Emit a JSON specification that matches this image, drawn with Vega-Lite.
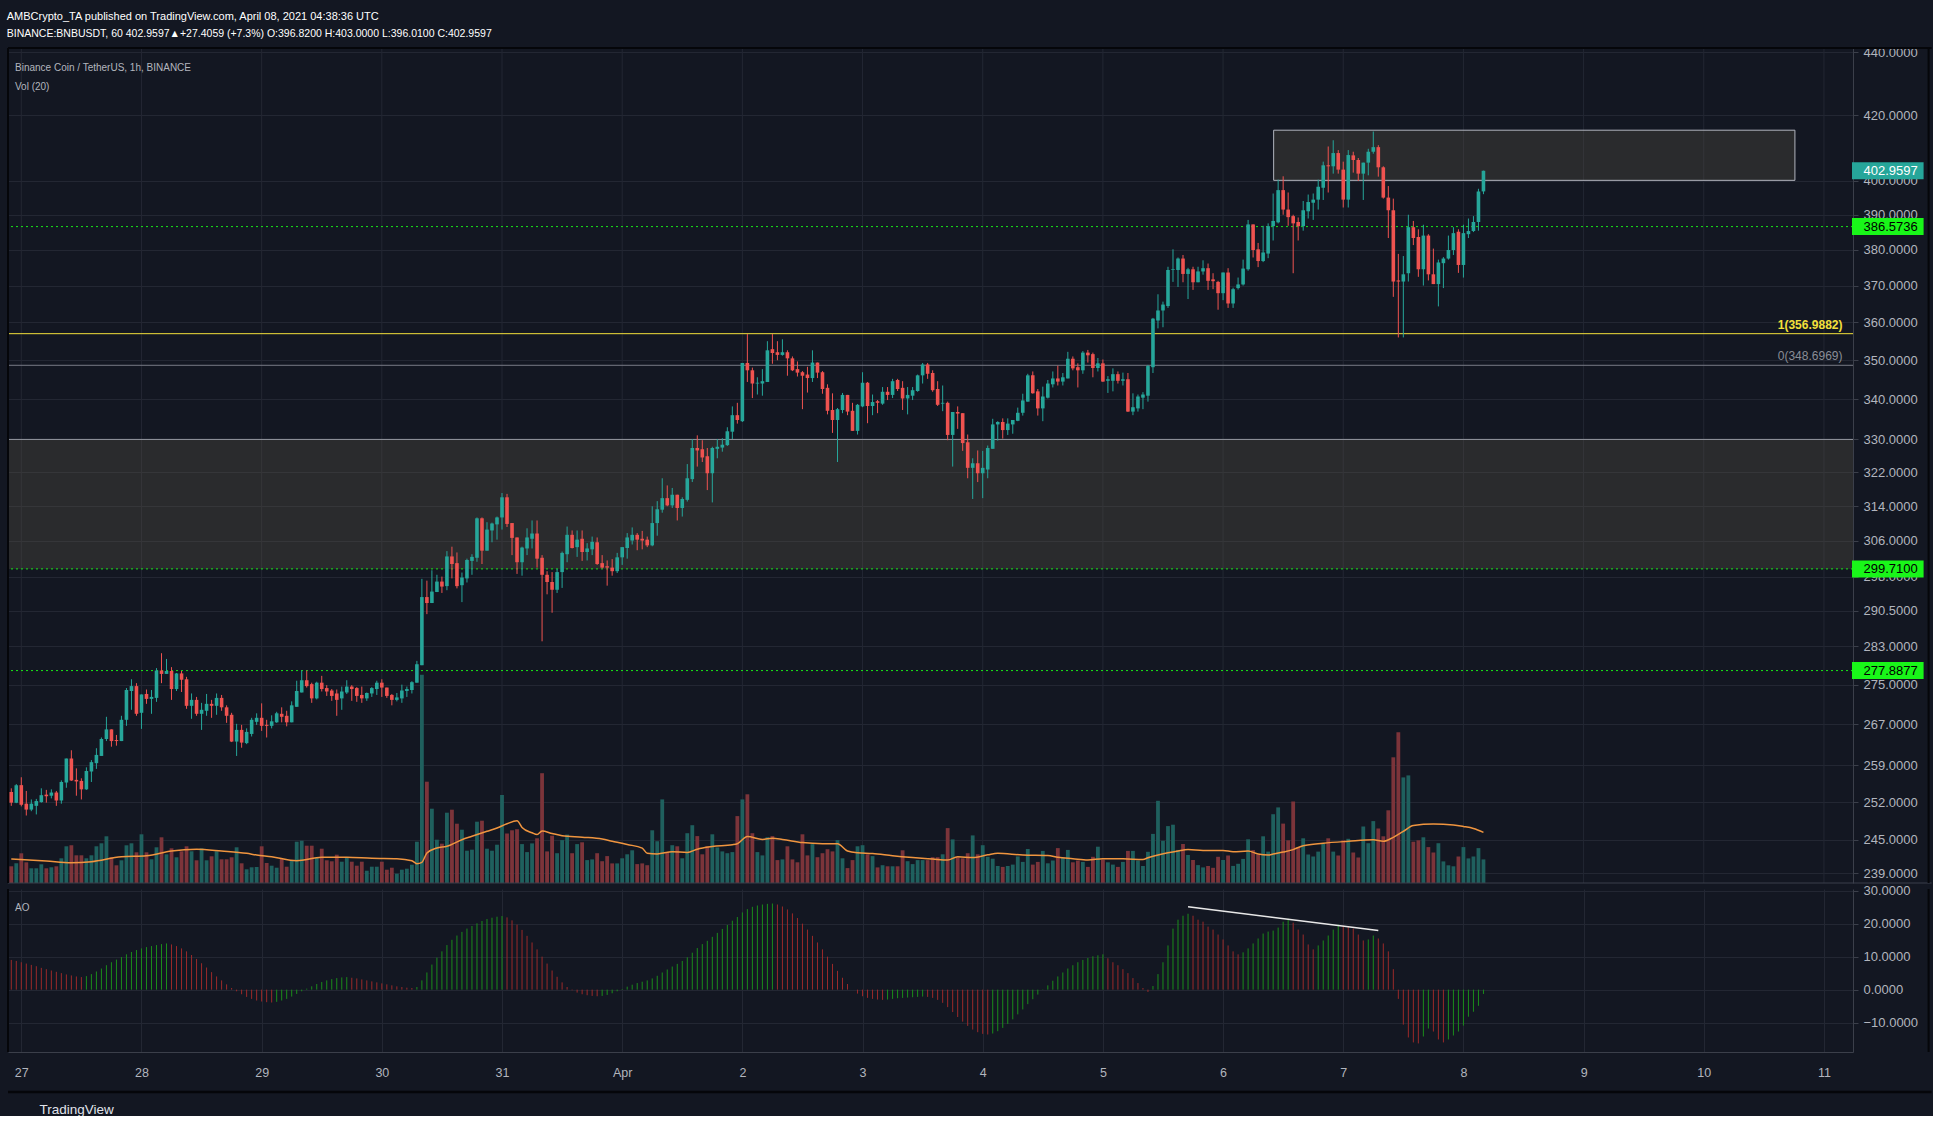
{
"$schema": "https://vega.github.io/schema/vega-lite/v6.json",
"background": "#131722",
"padding": {"left": 6, "top": 10, "right": 0, "bottom": 0},
"title": {"text": "AMBCrypto_TA published on TradingView.com, April 08, 2021 04:38:36 UTC", "subtitle": "BINANCE:BNBUSDT, 60  402.9597▲+27.4059 (+7.3%) O:396.8200 H:403.0000 L:396.0100 C:402.9597", "anchor": "start", "frame": "bounds", "font": "Liberation Sans", "fontSize": 11, "fontWeight": "normal", "color": "#ffffff", "subtitleFont": "Liberation Sans", "subtitleFontSize": 10.5, "subtitleColor": "#ffffff", "subtitlePadding": 7, "offset": 7},
"config": {"view": {"stroke": null}, "axis": {"labelFont": "Liberation Sans", "labelFontSize": 13, "labelColor": "#b2b5be", "gridColor": "#232733", "domainColor": "#3b3f4a", "tickColor": "#3b3f4a", "titleColor": "#d1d4dc"}},
"datasets": {
"bars": [
{"t":-2,"o":253.9,"h":254.6,"l":251.3,"c":251.9,"v":16.7,"a":9.0,"d":"d"},
{"t":-1,"o":251.9,"h":255.4,"l":251.8,"c":255.2,"v":19.7,"a":8.7,"d":"d"},
{"t":0,"o":255.2,"h":256.7,"l":251.2,"c":251.5,"v":29.7,"a":8.3,"d":"d"},
{"t":1,"o":251.7,"h":254.1,"l":249.5,"c":250.6,"v":20.7,"a":7.9,"d":"d"},
{"t":2,"o":250.6,"h":252.5,"l":250.3,"c":251.7,"v":14.7,"a":7.5,"d":"d"},
{"t":3,"o":251.3,"h":252.6,"l":249.7,"c":252.2,"v":14.7,"a":7.1,"d":"d"},
{"t":4,"o":252.0,"h":254.6,"l":251.9,"c":253.3,"v":18.7,"a":6.6,"d":"d"},
{"t":5,"o":253.4,"h":254.3,"l":251.9,"c":253.1,"v":14.7,"a":6.2,"d":"d"},
{"t":6,"o":253.2,"h":254.4,"l":252.7,"c":253.8,"v":15.7,"a":5.8,"d":"d"},
{"t":7,"o":253.8,"h":254.1,"l":251.3,"c":252.3,"v":16.7,"a":5.4,"d":"d"},
{"t":8,"o":252.3,"h":256.1,"l":251.7,"c":255.8,"v":24.7,"a":5.0,"d":"d"},
{"t":9,"o":255.7,"h":260.3,"l":254.7,"c":260.3,"v":36.7,"a":4.6,"d":"d"},
{"t":10,"o":260.3,"h":261.9,"l":256.0,"c":256.1,"v":37.7,"a":4.3,"d":"d"},
{"t":11,"o":256.2,"h":258.4,"l":253.2,"c":255.9,"v":27.7,"a":4.0,"d":"d"},
{"t":12,"o":256.0,"h":256.5,"l":252.5,"c":254.4,"v":27.7,"a":3.8,"d":"d"},
{"t":13,"o":254.4,"h":258.6,"l":254.3,"c":257.9,"v":24.7,"a":4.1,"d":"u"},
{"t":14,"o":257.8,"h":260.0,"l":255.8,"c":259.6,"v":27.7,"a":4.7,"d":"u"},
{"t":15,"o":259.4,"h":262.3,"l":258.3,"c":261.0,"v":36.7,"a":5.5,"d":"u"},
{"t":16,"o":260.8,"h":264.4,"l":260.8,"c":264.1,"v":39.7,"a":6.4,"d":"u"},
{"t":17,"o":264.1,"h":268.5,"l":263.7,"c":266.0,"v":46.7,"a":7.4,"d":"u"},
{"t":18,"o":266.0,"h":266.0,"l":262.6,"c":263.7,"v":25.7,"a":8.3,"d":"u"},
{"t":19,"o":263.9,"h":264.9,"l":262.8,"c":263.7,"v":17.7,"a":9.1,"d":"u"},
{"t":20,"o":263.7,"h":268.7,"l":263.7,"c":267.9,"v":22.7,"a":9.9,"d":"u"},
{"t":21,"o":267.9,"h":274.3,"l":266.7,"c":273.9,"v":37.7,"a":10.7,"d":"u"},
{"t":22,"o":273.7,"h":276.1,"l":269.9,"c":274.7,"v":39.7,"a":11.4,"d":"u"},
{"t":23,"o":274.7,"h":275.3,"l":268.7,"c":269.1,"v":30.7,"a":12.0,"d":"u"},
{"t":24,"o":269.3,"h":273.0,"l":266.1,"c":273.0,"v":48.7,"a":12.5,"d":"u"},
{"t":25,"o":273.1,"h":274.0,"l":271.1,"c":272.1,"v":30.7,"a":12.9,"d":"u"},
{"t":26,"o":272.1,"h":273.9,"l":269.1,"c":272.5,"v":23.7,"a":13.2,"d":"u"},
{"t":27,"o":272.3,"h":278.4,"l":271.5,"c":277.9,"v":35.7,"a":13.5,"d":"u"},
{"t":28,"o":277.9,"h":281.5,"l":275.3,"c":277.2,"v":45.7,"a":13.8,"d":"u"},
{"t":29,"o":277.2,"h":280.3,"l":277.2,"c":277.8,"v":28.7,"a":14.0,"d":"u"},
{"t":30,"o":277.8,"h":278.6,"l":271.9,"c":274.1,"v":34.7,"a":13.7,"d":"d"},
{"t":31,"o":274.1,"h":277.4,"l":273.7,"c":277.3,"v":25.7,"a":13.2,"d":"d"},
{"t":32,"o":277.3,"h":277.8,"l":273.5,"c":276.0,"v":31.7,"a":12.5,"d":"d"},
{"t":33,"o":276.1,"h":276.6,"l":270.1,"c":270.7,"v":36.7,"a":11.6,"d":"d"},
{"t":34,"o":270.7,"h":273.2,"l":268.1,"c":271.9,"v":31.7,"a":10.5,"d":"d"},
{"t":35,"o":271.9,"h":272.5,"l":268.7,"c":269.1,"v":22.7,"a":9.3,"d":"d"},
{"t":36,"o":269.1,"h":271.3,"l":265.9,"c":269.9,"v":34.7,"a":8.0,"d":"d"},
{"t":37,"o":269.7,"h":273.1,"l":268.7,"c":271.1,"v":22.7,"a":6.7,"d":"d"},
{"t":38,"o":271.1,"h":271.9,"l":268.3,"c":270.7,"v":26.7,"a":5.3,"d":"d"},
{"t":39,"o":270.7,"h":273.2,"l":268.9,"c":272.3,"v":31.7,"a":4.0,"d":"d"},
{"t":40,"o":272.3,"h":272.9,"l":269.7,"c":270.4,"v":23.7,"a":2.8,"d":"d"},
{"t":41,"o":270.4,"h":270.8,"l":267.3,"c":268.7,"v":23.7,"a":1.6,"d":"d"},
{"t":42,"o":268.9,"h":269.3,"l":263.5,"c":263.6,"v":25.7,"a":0.5,"d":"d"},
{"t":43,"o":263.6,"h":267.1,"l":260.8,"c":265.9,"v":35.7,"a":-0.5,"d":"d"},
{"t":44,"o":265.9,"h":266.9,"l":262.4,"c":263.4,"v":19.7,"a":-1.4,"d":"d"},
{"t":45,"o":263.3,"h":266.2,"l":263.1,"c":265.5,"v":13.7,"a":-2.2,"d":"d"},
{"t":46,"o":265.1,"h":268.3,"l":264.6,"c":267.9,"v":15.7,"a":-2.8,"d":"d"},
{"t":47,"o":267.5,"h":269.2,"l":266.9,"c":268.3,"v":16.0,"a":-3.3,"d":"d"},
{"t":48,"o":268.3,"h":271.2,"l":265.7,"c":266.7,"v":36.7,"a":-3.6,"d":"d"},
{"t":49,"o":266.9,"h":267.9,"l":264.4,"c":266.7,"v":20.0,"a":-3.8,"d":"d"},
{"t":50,"o":266.7,"h":268.8,"l":266.2,"c":267.6,"v":17.3,"a":-3.9,"d":"d"},
{"t":51,"o":267.4,"h":269.5,"l":267.3,"c":269.2,"v":15.3,"a":-3.7,"d":"u"},
{"t":52,"o":269.1,"h":270.4,"l":267.4,"c":268.5,"v":24.0,"a":-3.3,"d":"u"},
{"t":53,"o":268.7,"h":269.7,"l":266.6,"c":267.4,"v":16.3,"a":-2.8,"d":"u"},
{"t":54,"o":267.4,"h":271.6,"l":267.4,"c":270.8,"v":22.7,"a":-2.1,"d":"u"},
{"t":55,"o":270.5,"h":275.8,"l":270.5,"c":273.7,"v":41.3,"a":-1.3,"d":"u"},
{"t":56,"o":273.4,"h":277.9,"l":273.4,"c":275.9,"v":42.3,"a":-0.5,"d":"u"},
{"t":57,"o":275.9,"h":277.9,"l":274.4,"c":274.7,"v":37.3,"a":0.3,"d":"u"},
{"t":58,"o":275.1,"h":275.4,"l":271.3,"c":272.2,"v":37.3,"a":1.0,"d":"u"},
{"t":59,"o":272.2,"h":275.6,"l":272.0,"c":275.4,"v":25.0,"a":1.7,"d":"u"},
{"t":60,"o":275.4,"h":276.8,"l":273.6,"c":274.1,"v":34.3,"a":2.3,"d":"u"},
{"t":61,"o":274.3,"h":274.9,"l":272.7,"c":273.6,"v":22.7,"a":2.8,"d":"u"},
{"t":62,"o":273.8,"h":274.1,"l":271.7,"c":272.7,"v":21.7,"a":3.2,"d":"u"},
{"t":63,"o":273.2,"h":274.0,"l":268.7,"c":271.9,"v":28.3,"a":3.5,"d":"u"},
{"t":64,"o":272.2,"h":274.6,"l":269.9,"c":273.6,"v":21.3,"a":3.7,"d":"u"},
{"t":65,"o":273.4,"h":275.9,"l":273.1,"c":274.6,"v":25.0,"a":3.8,"d":"u"},
{"t":66,"o":274.6,"h":274.9,"l":271.7,"c":274.1,"v":21.3,"a":3.6,"d":"d"},
{"t":67,"o":274.3,"h":274.5,"l":271.5,"c":272.7,"v":17.3,"a":3.4,"d":"d"},
{"t":68,"o":272.9,"h":274.6,"l":271.3,"c":272.2,"v":21.3,"a":3.1,"d":"d"},
{"t":69,"o":272.2,"h":273.4,"l":271.7,"c":273.3,"v":12.3,"a":2.8,"d":"d"},
{"t":70,"o":273.2,"h":274.5,"l":272.5,"c":274.3,"v":16.3,"a":2.5,"d":"d"},
{"t":71,"o":274.1,"h":275.8,"l":272.9,"c":275.4,"v":16.3,"a":2.2,"d":"d"},
{"t":72,"o":275.4,"h":276.1,"l":272.5,"c":274.4,"v":21.3,"a":1.9,"d":"d"},
{"t":73,"o":274.4,"h":274.4,"l":272.3,"c":272.7,"v":13.3,"a":1.6,"d":"d"},
{"t":74,"o":272.9,"h":273.1,"l":270.8,"c":271.9,"v":15.3,"a":1.3,"d":"d"},
{"t":75,"o":271.9,"h":273.3,"l":271.6,"c":272.4,"v":9.3,"a":1.0,"d":"d"},
{"t":76,"o":272.2,"h":275.0,"l":271.3,"c":273.8,"v":13.3,"a":0.8,"d":"d"},
{"t":77,"o":273.7,"h":274.6,"l":272.5,"c":274.1,"v":14.3,"a":0.6,"d":"d"},
{"t":78,"o":273.9,"h":275.7,"l":273.2,"c":275.5,"v":18.3,"a":0.5,"d":"d"},
{"t":79,"o":275.4,"h":279.9,"l":275.4,"c":279.2,"v":41.3,"a":0.8,"d":"u"},
{"t":80,"o":279.0,"h":297.5,"l":279.0,"c":293.5,"v":208.3,"a":2.8,"d":"u"},
{"t":81,"o":293.5,"h":297.1,"l":289.8,"c":292.2,"v":101.3,"a":5.2,"d":"u"},
{"t":82,"o":292.2,"h":299.4,"l":292.2,"c":294.7,"v":74.3,"a":7.6,"d":"u"},
{"t":83,"o":294.6,"h":298.4,"l":294.6,"c":296.9,"v":43.3,"a":9.7,"d":"u"},
{"t":84,"o":296.9,"h":298.0,"l":294.4,"c":295.8,"v":39.3,"a":11.6,"d":"u"},
{"t":85,"o":295.9,"h":303.7,"l":295.0,"c":302.5,"v":70.3,"a":13.5,"d":"u"},
{"t":86,"o":302.5,"h":304.7,"l":297.6,"c":300.8,"v":73.3,"a":15.1,"d":"u"},
{"t":87,"o":301.0,"h":303.4,"l":295.4,"c":295.9,"v":59.3,"a":16.4,"d":"u"},
{"t":88,"o":296.1,"h":298.9,"l":292.4,"c":297.8,"v":53.3,"a":17.5,"d":"u"},
{"t":89,"o":297.6,"h":302.0,"l":296.7,"c":301.7,"v":32.3,"a":18.5,"d":"u"},
{"t":90,"o":301.5,"h":303.0,"l":298.4,"c":302.4,"v":33.3,"a":19.3,"d":"u"},
{"t":91,"o":302.2,"h":311.4,"l":301.3,"c":311.2,"v":61.3,"a":20.1,"d":"u"},
{"t":92,"o":311.2,"h":311.4,"l":300.8,"c":303.8,"v":62.3,"a":20.8,"d":"u"},
{"t":93,"o":303.8,"h":310.3,"l":303.8,"c":308.6,"v":34.3,"a":21.4,"d":"u"},
{"t":94,"o":308.4,"h":310.2,"l":305.7,"c":310.0,"v":32.3,"a":21.8,"d":"u"},
{"t":95,"o":309.8,"h":311.6,"l":306.3,"c":311.4,"v":38.3,"a":22.1,"d":"u"},
{"t":96,"o":311.4,"h":317.1,"l":308.6,"c":316.1,"v":88.0,"a":22.3,"d":"u"},
{"t":97,"o":316.1,"h":316.9,"l":309.2,"c":309.9,"v":49.5,"a":21.9,"d":"d"},
{"t":98,"o":310.1,"h":310.1,"l":302.8,"c":306.7,"v":52.7,"a":21.0,"d":"d"},
{"t":99,"o":306.8,"h":306.8,"l":298.6,"c":301.2,"v":53.8,"a":19.7,"d":"d"},
{"t":100,"o":301.2,"h":304.7,"l":298.2,"c":304.5,"v":38.9,"a":18.1,"d":"d"},
{"t":101,"o":304.3,"h":308.9,"l":302.8,"c":306.8,"v":30.9,"a":16.3,"d":"d"},
{"t":102,"o":306.5,"h":310.7,"l":304.3,"c":307.7,"v":39.6,"a":14.3,"d":"d"},
{"t":103,"o":307.7,"h":310.7,"l":300.0,"c":302.0,"v":44.7,"a":12.2,"d":"d"},
{"t":104,"o":302.2,"h":302.8,"l":284.0,"c":298.4,"v":109.8,"a":10.0,"d":"d"},
{"t":105,"o":298.4,"h":299.2,"l":294.1,"c":296.8,"v":31.6,"a":7.9,"d":"d"},
{"t":106,"o":296.8,"h":299.0,"l":290.1,"c":295.1,"v":47.3,"a":5.8,"d":"d"},
{"t":107,"o":295.1,"h":299.7,"l":294.4,"c":299.0,"v":29.8,"a":3.9,"d":"d"},
{"t":108,"o":299.0,"h":303.6,"l":295.5,"c":303.3,"v":42.9,"a":2.2,"d":"d"},
{"t":109,"o":303.0,"h":309.3,"l":301.2,"c":307.4,"v":48.4,"a":0.8,"d":"d"},
{"t":110,"o":307.4,"h":308.4,"l":304.3,"c":304.4,"v":29.8,"a":-0.2,"d":"d"},
{"t":111,"o":304.6,"h":308.4,"l":302.4,"c":306.3,"v":38.9,"a":-0.9,"d":"d"},
{"t":112,"o":306.5,"h":308.4,"l":301.5,"c":303.5,"v":40.7,"a":-1.4,"d":"d"},
{"t":113,"o":303.5,"h":305.5,"l":301.6,"c":304.3,"v":22.9,"a":-1.7,"d":"d"},
{"t":114,"o":304.1,"h":307.0,"l":302.8,"c":305.8,"v":23.6,"a":-1.9,"d":"d"},
{"t":115,"o":305.7,"h":306.8,"l":300.6,"c":300.8,"v":29.8,"a":-2.0,"d":"d"},
{"t":116,"o":301.0,"h":302.8,"l":299.8,"c":300.0,"v":21.8,"a":-1.9,"d":"u"},
{"t":117,"o":300.3,"h":301.6,"l":296.0,"c":300.0,"v":26.9,"a":-1.6,"d":"u"},
{"t":118,"o":300.0,"h":301.9,"l":298.2,"c":299.2,"v":19.6,"a":-1.1,"d":"u"},
{"t":119,"o":299.2,"h":303.3,"l":298.8,"c":302.3,"v":19.6,"a":-0.5,"d":"u"},
{"t":120,"o":302.3,"h":304.6,"l":300.6,"c":304.6,"v":24.7,"a":0.2,"d":"u"},
{"t":121,"o":304.4,"h":307.8,"l":302.0,"c":306.8,"v":28.7,"a":0.9,"d":"u"},
{"t":122,"o":306.1,"h":309.1,"l":305.2,"c":307.4,"v":32.7,"a":1.5,"d":"u"},
{"t":123,"o":307.4,"h":307.8,"l":303.9,"c":306.3,"v":18.9,"a":2.0,"d":"u"},
{"t":124,"o":306.5,"h":308.3,"l":304.1,"c":306.1,"v":19.6,"a":2.4,"d":"u"},
{"t":125,"o":306.3,"h":307.0,"l":304.6,"c":305.0,"v":17.8,"a":2.8,"d":"u"},
{"t":126,"o":305.0,"h":314.0,"l":304.8,"c":310.1,"v":52.7,"a":3.4,"d":"u"},
{"t":127,"o":310.1,"h":315.2,"l":307.2,"c":313.3,"v":41.8,"a":4.2,"d":"u"},
{"t":128,"o":313.2,"h":320.6,"l":312.5,"c":315.9,"v":83.6,"a":5.2,"d":"u"},
{"t":129,"o":315.9,"h":318.9,"l":314.0,"c":314.2,"v":30.9,"a":6.1,"d":"u"},
{"t":130,"o":314.2,"h":318.3,"l":313.6,"c":316.7,"v":37.8,"a":7.0,"d":"u"},
{"t":131,"o":316.7,"h":316.7,"l":310.7,"c":313.6,"v":36.7,"a":7.8,"d":"u"},
{"t":132,"o":313.6,"h":316.1,"l":311.6,"c":315.7,"v":24.7,"a":8.7,"d":"u"},
{"t":133,"o":315.5,"h":324.0,"l":315.1,"c":320.6,"v":49.8,"a":9.8,"d":"u"},
{"t":134,"o":320.4,"h":330.1,"l":319.7,"c":327.9,"v":57.8,"a":11.2,"d":"u"},
{"t":135,"o":327.9,"h":331.0,"l":323.4,"c":327.3,"v":46.9,"a":12.6,"d":"u"},
{"t":136,"o":327.6,"h":329.8,"l":324.5,"c":325.6,"v":28.7,"a":13.8,"d":"u"},
{"t":137,"o":325.9,"h":327.9,"l":317.8,"c":321.8,"v":36.7,"a":14.8,"d":"u"},
{"t":138,"o":321.8,"h":328.2,"l":314.9,"c":327.9,"v":48.7,"a":16.0,"d":"u"},
{"t":139,"o":327.7,"h":330.1,"l":325.4,"c":328.2,"v":35.6,"a":17.2,"d":"u"},
{"t":140,"o":328.0,"h":330.3,"l":327.0,"c":328.7,"v":31.6,"a":18.4,"d":"u"},
{"t":141,"o":328.6,"h":333.0,"l":328.4,"c":332.0,"v":29.8,"a":19.6,"d":"u"},
{"t":142,"o":331.9,"h":338.2,"l":330.1,"c":336.0,"v":30.9,"a":20.9,"d":"u"},
{"t":143,"o":336.0,"h":339.1,"l":333.9,"c":334.8,"v":66.9,"a":22.0,"d":"u"},
{"t":144,"o":334.5,"h":349.3,"l":334.3,"c":349.3,"v":83.6,"a":23.4,"d":"u"},
{"t":145,"o":349.3,"h":356.9,"l":344.4,"c":347.4,"v":88.7,"a":24.4,"d":"u"},
{"t":146,"o":347.4,"h":348.1,"l":340.3,"c":344.0,"v":49.8,"a":25.1,"d":"u"},
{"t":147,"o":344.0,"h":345.6,"l":341.2,"c":344.2,"v":30.9,"a":25.5,"d":"u"},
{"t":148,"o":344.0,"h":347.7,"l":340.9,"c":344.6,"v":27.6,"a":25.8,"d":"u"},
{"t":149,"o":344.4,"h":355.0,"l":344.4,"c":352.6,"v":45.8,"a":26.0,"d":"u"},
{"t":150,"o":352.9,"h":356.9,"l":349.1,"c":351.9,"v":46.9,"a":26.1,"d":"u"},
{"t":151,"o":352.1,"h":355.0,"l":350.0,"c":351.4,"v":22.9,"a":25.8,"d":"d"},
{"t":152,"o":351.4,"h":355.5,"l":351.2,"c":352.1,"v":23.6,"a":25.2,"d":"d"},
{"t":153,"o":352.1,"h":352.6,"l":346.0,"c":350.5,"v":36.7,"a":24.3,"d":"d"},
{"t":154,"o":350.5,"h":351.0,"l":347.2,"c":347.4,"v":23.6,"a":23.1,"d":"d"},
{"t":155,"o":347.7,"h":349.7,"l":345.8,"c":346.8,"v":20.7,"a":21.7,"d":"d"},
{"t":156,"o":346.9,"h":347.2,"l":337.5,"c":346.0,"v":48.7,"a":20.0,"d":"d"},
{"t":157,"o":346.3,"h":348.3,"l":341.7,"c":345.4,"v":27.6,"a":18.2,"d":"d"},
{"t":158,"o":345.4,"h":352.6,"l":344.4,"c":349.4,"v":38.9,"a":16.3,"d":"d"},
{"t":159,"o":349.4,"h":349.4,"l":345.4,"c":346.8,"v":25.8,"a":14.3,"d":"d"},
{"t":160,"o":346.9,"h":347.2,"l":341.4,"c":342.6,"v":29.8,"a":12.2,"d":"d"},
{"t":161,"o":342.9,"h":343.8,"l":336.2,"c":337.1,"v":33.8,"a":10.0,"d":"d"},
{"t":162,"o":337.3,"h":341.5,"l":331.6,"c":334.8,"v":31.6,"a":7.8,"d":"d"},
{"t":163,"o":334.8,"h":337.8,"l":324.5,"c":337.5,"v":42.9,"a":5.7,"d":"d"},
{"t":164,"o":337.3,"h":341.6,"l":336.5,"c":341.1,"v":24.7,"a":3.6,"d":"d"},
{"t":165,"o":341.1,"h":341.1,"l":336.0,"c":336.9,"v":14.9,"a":1.7,"d":"d"},
{"t":166,"o":337.1,"h":339.1,"l":332.1,"c":332.1,"v":22.9,"a":0.0,"d":"d"},
{"t":167,"o":332.1,"h":338.8,"l":331.2,"c":338.6,"v":36.7,"a":-1.2,"d":"d"},
{"t":168,"o":338.2,"h":346.9,"l":338.0,"c":344.2,"v":37.8,"a":-2.0,"d":"d"},
{"t":169,"o":344.2,"h":344.4,"l":334.0,"c":338.3,"v":28.7,"a":-2.5,"d":"d"},
{"t":170,"o":338.3,"h":341.2,"l":336.0,"c":339.3,"v":26.9,"a":-2.8,"d":"d"},
{"t":171,"o":339.5,"h":339.8,"l":336.5,"c":339.1,"v":15.6,"a":-3.0,"d":"d"},
{"t":172,"o":338.9,"h":343.1,"l":338.6,"c":341.9,"v":17.8,"a":-3.1,"d":"d"},
{"t":173,"o":341.9,"h":343.1,"l":339.8,"c":341.1,"v":16.7,"a":-3.0,"d":"u"},
{"t":174,"o":341.1,"h":345.2,"l":340.3,"c":344.6,"v":16.7,"a":-2.8,"d":"u"},
{"t":175,"o":344.9,"h":345.2,"l":342.1,"c":342.6,"v":16.7,"a":-2.6,"d":"u"},
{"t":176,"o":342.9,"h":344.6,"l":337.3,"c":340.2,"v":32.7,"a":-2.5,"d":"u"},
{"t":177,"o":340.2,"h":343.1,"l":336.2,"c":341.1,"v":21.8,"a":-2.4,"d":"u"},
{"t":178,"o":340.9,"h":343.1,"l":339.8,"c":342.3,"v":18.9,"a":-2.3,"d":"u"},
{"t":179,"o":342.1,"h":346.3,"l":341.9,"c":346.1,"v":22.9,"a":-2.2,"d":"u"},
{"t":180,"o":346.1,"h":349.3,"l":344.0,"c":348.9,"v":22.9,"a":-2.1,"d":"u"},
{"t":181,"o":348.9,"h":349.3,"l":345.2,"c":346.5,"v":22.9,"a":-2.2,"d":"d"},
{"t":182,"o":346.7,"h":347.4,"l":341.9,"c":342.3,"v":25.8,"a":-2.5,"d":"d"},
{"t":183,"o":342.6,"h":344.6,"l":338.3,"c":338.6,"v":25.8,"a":-3.1,"d":"d"},
{"t":184,"o":338.9,"h":343.5,"l":337.0,"c":339.1,"v":28.7,"a":-4.0,"d":"d"},
{"t":185,"o":339.1,"h":339.4,"l":329.8,"c":331.1,"v":54.9,"a":-5.3,"d":"d"},
{"t":186,"o":331.1,"h":336.8,"l":323.4,"c":336.8,"v":43.6,"a":-6.8,"d":"d"},
{"t":187,"o":336.8,"h":338.2,"l":332.6,"c":336.4,"v":25.8,"a":-8.3,"d":"d"},
{"t":188,"o":336.5,"h":336.5,"l":327.2,"c":329.1,"v":24.7,"a":-9.7,"d":"d"},
{"t":189,"o":329.3,"h":331.2,"l":320.6,"c":323.1,"v":29.8,"a":-11.0,"d":"d"},
{"t":190,"o":323.1,"h":325.4,"l":315.7,"c":324.2,"v":47.6,"a":-12.1,"d":"d"},
{"t":191,"o":324.2,"h":327.3,"l":319.7,"c":321.8,"v":28.7,"a":-12.9,"d":"d"},
{"t":192,"o":321.8,"h":327.2,"l":315.9,"c":323.1,"v":37.8,"a":-13.4,"d":"d"},
{"t":193,"o":322.7,"h":328.5,"l":320.6,"c":327.9,"v":26.2,"a":-13.6,"d":"d"},
{"t":194,"o":327.7,"h":335.1,"l":327.7,"c":333.7,"v":24.3,"a":-13.3,"d":"u"},
{"t":195,"o":333.7,"h":334.5,"l":329.7,"c":334.3,"v":17.0,"a":-12.6,"d":"u"},
{"t":196,"o":334.3,"h":335.2,"l":330.2,"c":332.3,"v":16.1,"a":-11.6,"d":"u"},
{"t":197,"o":332.3,"h":335.2,"l":331.1,"c":333.9,"v":17.0,"a":-10.4,"d":"u"},
{"t":198,"o":333.7,"h":334.8,"l":331.4,"c":334.8,"v":18.4,"a":-9.0,"d":"u"},
{"t":199,"o":334.6,"h":337.9,"l":334.5,"c":336.6,"v":26.6,"a":-7.5,"d":"u"},
{"t":200,"o":336.6,"h":341.4,"l":335.9,"c":339.7,"v":21.1,"a":-6.0,"d":"u"},
{"t":201,"o":339.4,"h":346.5,"l":339.4,"c":346.1,"v":34.0,"a":-4.4,"d":"u"},
{"t":202,"o":346.1,"h":347.1,"l":341.4,"c":341.5,"v":18.4,"a":-2.9,"d":"u"},
{"t":203,"o":342.0,"h":342.6,"l":335.9,"c":337.7,"v":21.1,"a":-1.5,"d":"u"},
{"t":204,"o":337.7,"h":343.2,"l":334.5,"c":340.7,"v":32.1,"a":-0.1,"d":"u"},
{"t":205,"o":340.4,"h":344.9,"l":340.2,"c":344.0,"v":19.7,"a":1.3,"d":"u"},
{"t":206,"o":343.8,"h":347.1,"l":343.0,"c":345.3,"v":22.5,"a":2.7,"d":"u"},
{"t":207,"o":345.3,"h":348.6,"l":343.5,"c":344.5,"v":34.9,"a":4.0,"d":"u"},
{"t":208,"o":344.5,"h":346.7,"l":343.5,"c":345.6,"v":25.7,"a":5.2,"d":"u"},
{"t":209,"o":345.3,"h":352.2,"l":345.3,"c":350.4,"v":33.1,"a":6.4,"d":"u"},
{"t":210,"o":350.4,"h":351.0,"l":347.4,"c":347.9,"v":20.7,"a":7.4,"d":"u"},
{"t":211,"o":348.2,"h":349.2,"l":343.0,"c":347.4,"v":22.5,"a":8.3,"d":"u"},
{"t":212,"o":347.4,"h":352.4,"l":346.5,"c":352.0,"v":21.1,"a":9.0,"d":"u"},
{"t":213,"o":352.0,"h":352.7,"l":349.4,"c":351.3,"v":16.1,"a":9.6,"d":"u"},
{"t":214,"o":351.6,"h":352.0,"l":345.6,"c":348.0,"v":26.2,"a":10.1,"d":"u"},
{"t":215,"o":348.0,"h":350.6,"l":347.1,"c":349.2,"v":36.3,"a":10.4,"d":"u"},
{"t":216,"o":349.2,"h":350.2,"l":344.4,"c":344.5,"v":23.4,"a":10.7,"d":"u"},
{"t":217,"o":344.7,"h":345.9,"l":341.6,"c":345.1,"v":20.7,"a":9.5,"d":"d"},
{"t":218,"o":344.7,"h":347.9,"l":342.0,"c":346.4,"v":18.4,"a":8.3,"d":"d"},
{"t":219,"o":346.4,"h":347.1,"l":344.0,"c":344.7,"v":16.1,"a":7.4,"d":"d"},
{"t":220,"o":344.7,"h":346.8,"l":343.5,"c":345.1,"v":21.1,"a":6.2,"d":"d"},
{"t":221,"o":345.1,"h":346.7,"l":336.8,"c":336.9,"v":32.1,"a":5.0,"d":"d"},
{"t":222,"o":336.9,"h":341.5,"l":336.0,"c":338.0,"v":32.1,"a":3.5,"d":"d"},
{"t":223,"o":337.7,"h":341.2,"l":336.9,"c":340.7,"v":22.5,"a":2.0,"d":"d"},
{"t":224,"o":340.4,"h":341.8,"l":337.5,"c":341.2,"v":17.0,"a":0.5,"d":"d"},
{"t":225,"o":340.9,"h":348.8,"l":339.4,"c":348.5,"v":31.2,"a":-0.7,"d":"d"},
{"t":226,"o":348.2,"h":361.2,"l":346.7,"c":361.0,"v":49.1,"a":1.1,"d":"u"},
{"t":227,"o":360.5,"h":367.6,"l":358.4,"c":363.2,"v":82.2,"a":4.7,"d":"u"},
{"t":228,"o":363.2,"h":365.6,"l":358.7,"c":364.8,"v":42.2,"a":8.3,"d":"u"},
{"t":229,"o":364.4,"h":375.2,"l":363.9,"c":374.3,"v":56.9,"a":13.4,"d":"u"},
{"t":230,"o":374.3,"h":380.1,"l":371.0,"c":374.5,"v":58.3,"a":18.5,"d":"u"},
{"t":231,"o":374.3,"h":377.8,"l":369.6,"c":377.5,"v":33.1,"a":21.2,"d":"u"},
{"t":232,"o":377.5,"h":378.5,"l":370.9,"c":373.2,"v":39.0,"a":22.4,"d":"u"},
{"t":233,"o":373.2,"h":374.9,"l":366.3,"c":374.5,"v":28.0,"a":23.0,"d":"u"},
{"t":234,"o":374.5,"h":375.2,"l":368.8,"c":370.9,"v":23.0,"a":22.4,"d":"d"},
{"t":235,"o":370.9,"h":375.2,"l":370.9,"c":373.9,"v":17.9,"a":21.2,"d":"d"},
{"t":236,"o":373.9,"h":377.0,"l":373.0,"c":374.8,"v":15.6,"a":20.6,"d":"d"},
{"t":237,"o":374.8,"h":376.1,"l":368.8,"c":371.3,"v":17.0,"a":19.1,"d":"d"},
{"t":238,"o":371.7,"h":373.4,"l":369.0,"c":371.2,"v":15.2,"a":18.2,"d":"d"},
{"t":239,"o":371.0,"h":371.3,"l":363.4,"c":367.9,"v":26.2,"a":16.7,"d":"d"},
{"t":240,"o":367.9,"h":373.6,"l":366.0,"c":373.6,"v":23.0,"a":15.2,"d":"d"},
{"t":241,"o":373.6,"h":374.8,"l":363.9,"c":365.1,"v":27.5,"a":13.4,"d":"d"},
{"t":242,"o":365.1,"h":369.4,"l":363.9,"c":369.0,"v":17.1,"a":11.6,"d":"d"},
{"t":243,"o":369.3,"h":372.2,"l":368.9,"c":370.3,"v":19.2,"a":10.7,"d":"d"},
{"t":244,"o":370.3,"h":377.2,"l":370.0,"c":374.7,"v":24.1,"a":11.3,"d":"u"},
{"t":245,"o":374.5,"h":388.5,"l":374.1,"c":387.2,"v":43.7,"a":12.5,"d":"u"},
{"t":246,"o":387.2,"h":387.2,"l":377.8,"c":379.9,"v":32.9,"a":14.0,"d":"u"},
{"t":247,"o":380.1,"h":381.9,"l":375.1,"c":376.8,"v":28.5,"a":15.5,"d":"u"},
{"t":248,"o":376.8,"h":386.8,"l":376.5,"c":379.2,"v":46.7,"a":17.0,"d":"u"},
{"t":249,"o":378.9,"h":387.5,"l":377.6,"c":386.7,"v":31.4,"a":17.6,"d":"u"},
{"t":250,"o":386.7,"h":396.2,"l":382.6,"c":388.2,"v":68.8,"a":17.9,"d":"u"},
{"t":251,"o":387.8,"h":400.3,"l":387.5,"c":397.2,"v":75.6,"a":18.8,"d":"u"},
{"t":252,"o":397.2,"h":401.3,"l":390.0,"c":391.5,"v":59.4,"a":20.6,"d":"u"},
{"t":253,"o":391.5,"h":396.5,"l":386.8,"c":389.3,"v":42.7,"a":21.5,"d":"u"},
{"t":254,"o":389.6,"h":390.0,"l":373.4,"c":387.5,"v":81.5,"a":20.3,"d":"d"},
{"t":255,"o":387.9,"h":389.2,"l":382.6,"c":386.7,"v":35.9,"a":18.2,"d":"d"},
{"t":256,"o":386.7,"h":394.0,"l":385.4,"c":391.3,"v":44.7,"a":16.7,"d":"d"},
{"t":257,"o":391.0,"h":395.9,"l":388.9,"c":393.7,"v":28.5,"a":13.7,"d":"d"},
{"t":258,"o":393.5,"h":396.2,"l":388.5,"c":394.4,"v":26.5,"a":12.2,"d":"d"},
{"t":259,"o":394.4,"h":400.3,"l":391.5,"c":398.2,"v":31.4,"a":13.4,"d":"u"},
{"t":260,"o":397.9,"h":405.7,"l":394.3,"c":404.6,"v":39.8,"a":14.9,"d":"u"},
{"t":261,"o":404.6,"h":410.3,"l":396.5,"c":404.3,"v":44.7,"a":16.4,"d":"u"},
{"t":262,"o":404.3,"h":412.2,"l":402.1,"c":408.3,"v":31.4,"a":18.2,"d":"u"},
{"t":263,"o":408.3,"h":409.2,"l":402.1,"c":403.3,"v":27.5,"a":19.7,"d":"u"},
{"t":264,"o":403.3,"h":405.7,"l":392.1,"c":394.4,"v":42.7,"a":19.4,"d":"d"},
{"t":265,"o":394.4,"h":409.2,"l":392.1,"c":407.7,"v":44.2,"a":19.1,"d":"d"},
{"t":266,"o":407.6,"h":408.7,"l":402.4,"c":406.2,"v":30.5,"a":18.5,"d":"d"},
{"t":267,"o":406.2,"h":406.8,"l":399.9,"c":402.1,"v":25.5,"a":16.7,"d":"d"},
{"t":268,"o":402.1,"h":405.4,"l":394.3,"c":405.4,"v":56.5,"a":14.9,"d":"d"},
{"t":269,"o":405.4,"h":409.6,"l":401.6,"c":408.7,"v":39.8,"a":15.2,"d":"u"},
{"t":270,"o":408.7,"h":414.9,"l":408.1,"c":410.1,"v":61.9,"a":16.4,"d":"u"},
{"t":271,"o":410.1,"h":410.7,"l":401.2,"c":404.0,"v":54.5,"a":15.5,"d":"d"},
{"t":272,"o":404.0,"h":404.3,"l":394.7,"c":395.0,"v":46.7,"a":14.0,"d":"d"},
{"t":273,"o":395.0,"h":398.4,"l":383.3,"c":391.3,"v":72.7,"a":11.6,"d":"d"},
{"t":274,"o":391.3,"h":394.7,"l":366.9,"c":371.1,"v":125.7,"a":6.2,"d":"d"},
{"t":275,"o":371.4,"h":378.8,"l":356.0,"c":371.1,"v":150.8,"a":-2.8,"d":"d"},
{"t":276,"o":371.1,"h":378.2,"l":356.0,"c":373.1,"v":105.6,"a":-10.6,"d":"d"},
{"t":277,"o":373.4,"h":390.0,"l":371.1,"c":386.4,"v":107.6,"a":-14.5,"d":"d"},
{"t":278,"o":386.4,"h":388.2,"l":381.3,"c":383.3,"v":41.3,"a":-16.0,"d":"d"},
{"t":279,"o":383.6,"h":385.8,"l":372.4,"c":374.5,"v":42.7,"a":-16.3,"d":"d"},
{"t":280,"o":374.5,"h":387.1,"l":370.0,"c":384.0,"v":45.7,"a":-14.2,"d":"u"},
{"t":281,"o":384.0,"h":384.4,"l":371.4,"c":373.1,"v":35.9,"a":-11.8,"d":"u"},
{"t":282,"o":373.1,"h":380.3,"l":370.4,"c":370.4,"v":30.5,"a":-12.7,"d":"d"},
{"t":283,"o":370.4,"h":377.2,"l":364.3,"c":376.4,"v":39.8,"a":-15.1,"d":"d"},
{"t":284,"o":376.2,"h":377.9,"l":369.3,"c":377.5,"v":21.6,"a":-16.0,"d":"d"},
{"t":285,"o":377.5,"h":384.0,"l":377.2,"c":379.9,"v":17.7,"a":-15.1,"d":"u"},
{"t":286,"o":379.9,"h":386.4,"l":378.5,"c":384.7,"v":16.7,"a":-13.9,"d":"u"},
{"t":287,"o":385.1,"h":385.8,"l":373.5,"c":375.7,"v":26.5,"a":-12.7,"d":"u"},
{"t":288,"o":375.7,"h":387.1,"l":372.2,"c":384.7,"v":35.9,"a":-10.9,"d":"u"},
{"t":289,"o":384.4,"h":388.9,"l":383.3,"c":385.3,"v":24.6,"a":-8.2,"d":"u"},
{"t":290,"o":385.3,"h":389.6,"l":385.0,"c":387.9,"v":26.5,"a":-6.7,"d":"u"},
{"t":291,"o":387.9,"h":397.6,"l":385.4,"c":396.8,"v":34.9,"a":-4.9,"d":"u"},
{"t":292,"o":396.82,"h":403.0,"l":396.01,"c":402.9597,"v":23.6,"a":-1.3,"d":"u"}
],
"ma": [
{"t":-2,"m":24},{"t":5,"m":22},{"t":10,"m":20.3},{"t":14,"m":21.3},{"t":20,"m":26.3},{"t":25,"m":27.3},{"t":30,"m":32},{"t":35,"m":33.7},{"t":40,"m":32},{"t":45,"m":29.7},{"t":47,"m":28},{"t":50,"m":26.3},{"t":55,"m":22.3},{"t":60,"m":25.7},{"t":65,"m":25.7},{"t":70,"m":24.7},{"t":75,"m":24.3},{"t":78,"m":22.3},{"t":79,"m":19.3},{"t":80,"m":20.7},{"t":81,"m":30},{"t":83,"m":35},{"t":85,"m":36.7},{"t":88,"m":43.3},{"t":90,"m":46.7},{"t":93,"m":51.7},{"t":95,"m":55},{"t":97,"m":59.3},{"t":99,"m":62.2},{"t":100,"m":55.6},{"t":102,"m":50.2},{"t":103,"m":48.4},{"t":104,"m":52},{"t":106,"m":49.5},{"t":108,"m":47.3},{"t":112,"m":45.8},{"t":116,"m":44},{"t":118,"m":41.8},{"t":121,"m":38.5},{"t":124,"m":34.9},{"t":125,"m":29.8},{"t":127,"m":29.1},{"t":130,"m":31.3},{"t":133,"m":30.5},{"t":135,"m":33.8},{"t":138,"m":36.4},{"t":142,"m":38.2},{"t":143,"m":39.3},{"t":145,"m":46.5},{"t":148,"m":43.6},{"t":150,"m":44.7},{"t":152,"m":43.6},{"t":156,"m":40.4},{"t":160,"m":39.3},{"t":163,"m":39.3},{"t":165,"m":32},{"t":167,"m":30.2},{"t":170,"m":29.5},{"t":174,"m":27.3},{"t":178,"m":25.5},{"t":182,"m":24},{"t":185,"m":22.9},{"t":187,"m":26.2},{"t":190,"m":25.5},{"t":193,"m":28.2},{"t":195,"m":29.8},{"t":200,"m":28},{"t":205,"m":27.5},{"t":207,"m":25.7},{"t":210,"m":24.3},{"t":213,"m":23},{"t":216,"m":24.3},{"t":220,"m":24.3},{"t":224,"m":23.4},{"t":225,"m":25.3},{"t":227,"m":28},{"t":229,"m":30.3},{"t":231,"m":32.1},{"t":233,"m":33.5},{"t":236,"m":32.6},{"t":240,"m":32.6},{"t":242,"m":31.3},{"t":245,"m":31.9},{"t":247,"m":29},{"t":249,"m":28},{"t":250,"m":29},{"t":252,"m":30.9},{"t":254,"m":33.4},{"t":256,"m":37.3},{"t":260,"m":39.8},{"t":265,"m":41.7},{"t":270,"m":43.2},{"t":272,"m":41.7},{"t":274,"m":45.7},{"t":276,"m":51.6},{"t":278,"m":57.5},{"t":282,"m":58.9},{"t":286,"m":58},{"t":288,"m":56.5},{"t":290,"m":54.5},{"t":292,"m":50.6}
],
"days": [{"g":0},{"g":24},{"g":48},{"g":72},{"g":96},{"g":120},{"g":144},{"g":168},{"g":192},{"g":216},{"g":240},{"g":264},{"g":288},{"g":312},{"g":336},{"g":360}]
},
"spacing": 0,
"vconcat": [
{
"width": 1845, "height": 835,
"layer": [
{
"data": {"name": "bars"},
"layer": [
{"data": {"name": "days"}, "mark": {"type": "rule", "color": "#232733", "strokeWidth": 1},
 "encoding": {"x": {"field": "g", "type": "quantitative", "scale": {"domain": [-2.656, 365.8], "nice": false, "zero": false, "padding": 0}, "axis": null}}},
{"mark": {"type": "bar", "width": 3.8},
 "encoding": {
  "x": {"field": "t", "type": "quantitative"},
  "y": {"field": "v", "type": "quantitative", "stack": null, "scale": {"domain": [0, 835], "nice": false, "zero": true, "padding": 0}, "axis": null},
  "color": {"condition": {"test": "datum.c >= datum.o", "value": "#1f605e"}, "value": "#7c343a"}}},
{"data": {"name": "ma"}, "mark": {"type": "line", "color": "#f0953f", "strokeWidth": 1.5, "interpolate": "monotone"},
 "encoding": {"x": {"field": "t", "type": "quantitative"}, "y": {"field": "m", "type": "quantitative"}}}
]
},
{
"layer": [
{"data": {"values": [{}]}, "mark": {"type": "rect", "fill": "#5f5a48", "fillOpacity": 0.3},
 "encoding": {"x": {"datum": -2.656, "type": "quantitative"}, "x2": {"datum": 365.8}, "y": {"datum": 299.71, "type": "quantitative", "title": null}, "y2": {"datum": 330}}},
{"data": {"values": [{}]}, "mark": {"type": "rect", "fill": "#5f5a48", "fillOpacity": 0.3, "stroke": "#b2b5be", "strokeWidth": 1},
 "encoding": {"x": {"datum": 250.1, "type": "quantitative"}, "x2": {"datum": 354.2}, "y": {"datum": 400.1, "type": "quantitative"}, "y2": {"datum": 415.3}}},
{"data": {"values": [{}]}, "mark": {"type": "rule", "color": "#9598a1", "strokeWidth": 1}, "encoding": {"y": {"datum": 330, "type": "quantitative"}}},
{"data": {"values": [{}]}, "mark": {"type": "rule", "color": "#f3e03b", "strokeWidth": 1}, "encoding": {"y": {"datum": 356.9882, "type": "quantitative"}}},
{"data": {"values": [{}]}, "mark": {"type": "rule", "color": "#787b86", "strokeWidth": 1}, "encoding": {"y": {"datum": 348.6969, "type": "quantitative"}}},
{"data": {"values": [{"p": 386.5736}, {"p": 299.71}, {"p": 277.8877}]}, "mark": {"type": "rule", "color": "#18e918", "strokeWidth": 1, "strokeDash": [2, 3]},
 "encoding": {"y": {"field": "p", "type": "quantitative", "title": null}}},
{"data": {"name": "bars"}, "mark": {"type": "rule", "strokeWidth": 1},
 "encoding": {
  "x": {"field": "t", "type": "quantitative"},
  "y": {"field": "l", "type": "quantitative", "title": null, "scale": {"type": "log", "domain": [237.29, 441.47], "nice": false, "zero": false, "padding": 0}, "axis": {"orient": "right", "values": [440,420,400,390,380,370,360,350,340,330,322,314,306,298,290.5,283,275,267,259,252,245,239], "format": ".4f", "tickSize": 5, "labelPadding": 5, "grid": true, "title": null, "labelOverlap": false, "domain": true}},
  "y2": {"field": "h"},
  "color": {"condition": {"test": "datum.c >= datum.o", "value": "#26a69a"}, "value": "#ef5350"}}},
{"data": {"name": "bars"}, "mark": {"type": "bar", "width": 3.6},
 "encoding": {
  "x": {"field": "t", "type": "quantitative"},
  "y": {"field": "o", "type": "quantitative", "title": null},
  "y2": {"field": "c"},
  "color": {"condition": {"test": "datum.c >= datum.o", "value": "#26a69a"}, "value": "#ef5350"}}},
{"data": {"values": [{}]}, "mark": {"type": "rule", "color": "#3b3f4a", "strokeWidth": 1}, "encoding": {"y": {"datum": 237.29, "type": "quantitative"}, "x": {"datum": -2.656, "type": "quantitative"}, "x2": {"datum": 381.5}}},
{"data": {"values": [{}]}, "mark": {"type": "rule", "color": "#05060a", "strokeWidth": 2}, "encoding": {"y": {"datum": 441.47, "type": "quantitative"}, "x": {"datum": -2.656, "type": "quantitative"}, "x2": {"datum": 381.5}}},
{"data": {"values": [{}]}, "mark": {"type": "rule", "color": "#05060a", "strokeWidth": 2}, "encoding": {"x": {"datum": -2.656, "type": "quantitative"}}},
{"data": {"values": [{}]}, "mark": {"type": "rule", "color": "#05060a", "strokeWidth": 2}, "encoding": {"x": {"datum": 380.9, "type": "quantitative"}}},
{"data": {"values": [{}]}, "mark": {"type": "text", "align": "left", "baseline": "middle", "font": "Liberation Sans", "fontSize": 10, "color": "#b2b5be"},
 "encoding": {"x": {"datum": -1.26, "type": "quantitative"}, "y": {"datum": 435.1, "type": "quantitative"}, "text": {"value": "Binance Coin / TetherUS, 1h, BINANCE"}}},
{"data": {"values": [{}]}, "mark": {"type": "text", "align": "left", "baseline": "middle", "font": "Liberation Sans", "fontSize": 10, "color": "#b2b5be"},
 "encoding": {"x": {"datum": -1.26, "type": "quantitative"}, "y": {"datum": 428.9, "type": "quantitative"}, "text": {"value": "Vol (20)"}}},
{"data": {"values": [{}]}, "mark": {"type": "text", "align": "right", "baseline": "bottom", "dy": -2, "font": "Liberation Sans", "fontSize": 12, "fontWeight": "bold", "color": "#f3e03b"},
 "encoding": {"x": {"datum": 363.7, "type": "quantitative"}, "y": {"datum": 356.9882, "type": "quantitative"}, "text": {"value": "1(356.9882)"}}},
{"data": {"values": [{}]}, "mark": {"type": "text", "align": "right", "baseline": "bottom", "dy": -2, "font": "Liberation Sans", "fontSize": 12, "color": "#8a8d96"},
 "encoding": {"x": {"datum": 363.7, "type": "quantitative"}, "y": {"datum": 348.6969, "type": "quantitative"}, "text": {"value": "0(348.6969)"}}},
{"data": {"values": [{"p": 402.9597}]}, "mark": {"type": "bar", "orient": "horizontal", "height": 17, "color": "#26a69a"},
 "encoding": {"x": {"datum": 365.6, "type": "quantitative"}, "x2": {"datum": 379.9}, "y": {"field": "p", "type": "quantitative", "title": null}}},
{"data": {"values": [{"p": 386.5736}, {"p": 299.71}, {"p": 277.8877}]}, "mark": {"type": "bar", "orient": "horizontal", "height": 17, "color": "#19f619"},
 "encoding": {"x": {"datum": 365.6, "type": "quantitative"}, "x2": {"datum": 379.9}, "y": {"field": "p", "type": "quantitative", "title": null}}},
{"data": {"values": [{"p": 402.9597}]}, "mark": {"type": "text", "align": "left", "baseline": "middle", "font": "Liberation Sans", "fontSize": 13, "color": "#ffffff"},
 "encoding": {"x": {"datum": 367.9, "type": "quantitative"}, "y": {"field": "p", "type": "quantitative", "title": null}, "text": {"field": "p", "format": ".4f"}}},
{"data": {"values": [{"p": 386.5736}, {"p": 299.71}, {"p": 277.8877}]}, "mark": {"type": "text", "align": "left", "baseline": "middle", "font": "Liberation Sans", "fontSize": 13, "color": "#000000"},
 "encoding": {"x": {"datum": 367.9, "type": "quantitative"}, "y": {"field": "p", "type": "quantitative", "title": null}, "text": {"field": "p", "format": ".4f"}}}
]
}
],
"resolve": {"scale": {"y": "independent"}}
},
{
"width": 1845, "height": 163,
"layer": [
{"data": {"name": "bars"}, "mark": {"type": "rule", "strokeWidth": 1},
 "encoding": {
  "x": {"field": "t", "type": "quantitative", "scale": {"domain": [-2.656, 365.8], "nice": false, "zero": false, "padding": 0},
   "axis": {"orient": "bottom", "values": [0,24,48,72,96,120,144,168,192,216,240,264,288,312,336,360], "labelExpr": "['27','28','29','30','31','Apr','2','3','4','5','6','7','8','9','10','11'][round(datum.value/24)]", "ticks": false, "tickSize": 0, "domain": true, "grid": true, "labelPadding": 14, "labelFontSize": 12.5, "title": "TradingView", "titleAnchor": "start", "titleAlign": "left", "titleX": 31, "titleY": 57, "titleFont": "Liberation Sans", "titleFontSize": 13.5, "titleFontWeight": "normal", "titleColor": "#e0e3eb", "titleBaseline": "middle"}},
  "y": {"field": "a", "type": "quantitative", "scale": {"domain": [-18.9, 30.5], "nice": false, "zero": false, "padding": 0}, "axis": {"orient": "right", "values": [30,20,10,0,-10], "format": ".4f", "tickSize": 5, "labelPadding": 5, "grid": true, "title": null, "labelOverlap": false}},
  "y2": {"datum": 0},
  "color": {"condition": {"test": "datum.d == 'u'", "value": "#1b8c1b"}, "value": "#9b2a2a"}}},
{"data": {"values": [{"t": 233.0, "a": 25.1}, {"t": 271.0, "a": 17.9}]}, "mark": {"type": "line", "color": "#e8e8e8", "strokeWidth": 1.5},
 "encoding": {"x": {"field": "t", "type": "quantitative"}, "y": {"field": "a", "type": "quantitative"}}},
{"data": {"values": [{}]}, "mark": {"type": "rule", "color": "#05060a", "strokeWidth": 2}, "encoding": {"x": {"datum": -2.656, "type": "quantitative"}}},
{"data": {"values": [{}]}, "mark": {"type": "rule", "color": "#05060a", "strokeWidth": 2}, "encoding": {"x": {"datum": 380.9, "type": "quantitative"}}},
{"data": {"values": [{}]}, "mark": {"type": "rule", "color": "#05060a", "strokeWidth": 2.5}, "encoding": {"y": {"datum": -31, "type": "quantitative"}, "x": {"datum": -2.656, "type": "quantitative"}, "x2": {"datum": 381.5}}},
{"data": {"values": [{}]}, "mark": {"type": "text", "align": "left", "baseline": "middle", "font": "Liberation Sans", "fontSize": 10, "color": "#b2b5be"},
 "encoding": {"x": {"datum": -1.26, "type": "quantitative"}, "y": {"datum": 24.8, "type": "quantitative"}, "text": {"value": "AO"}}}
]
}
]
}
